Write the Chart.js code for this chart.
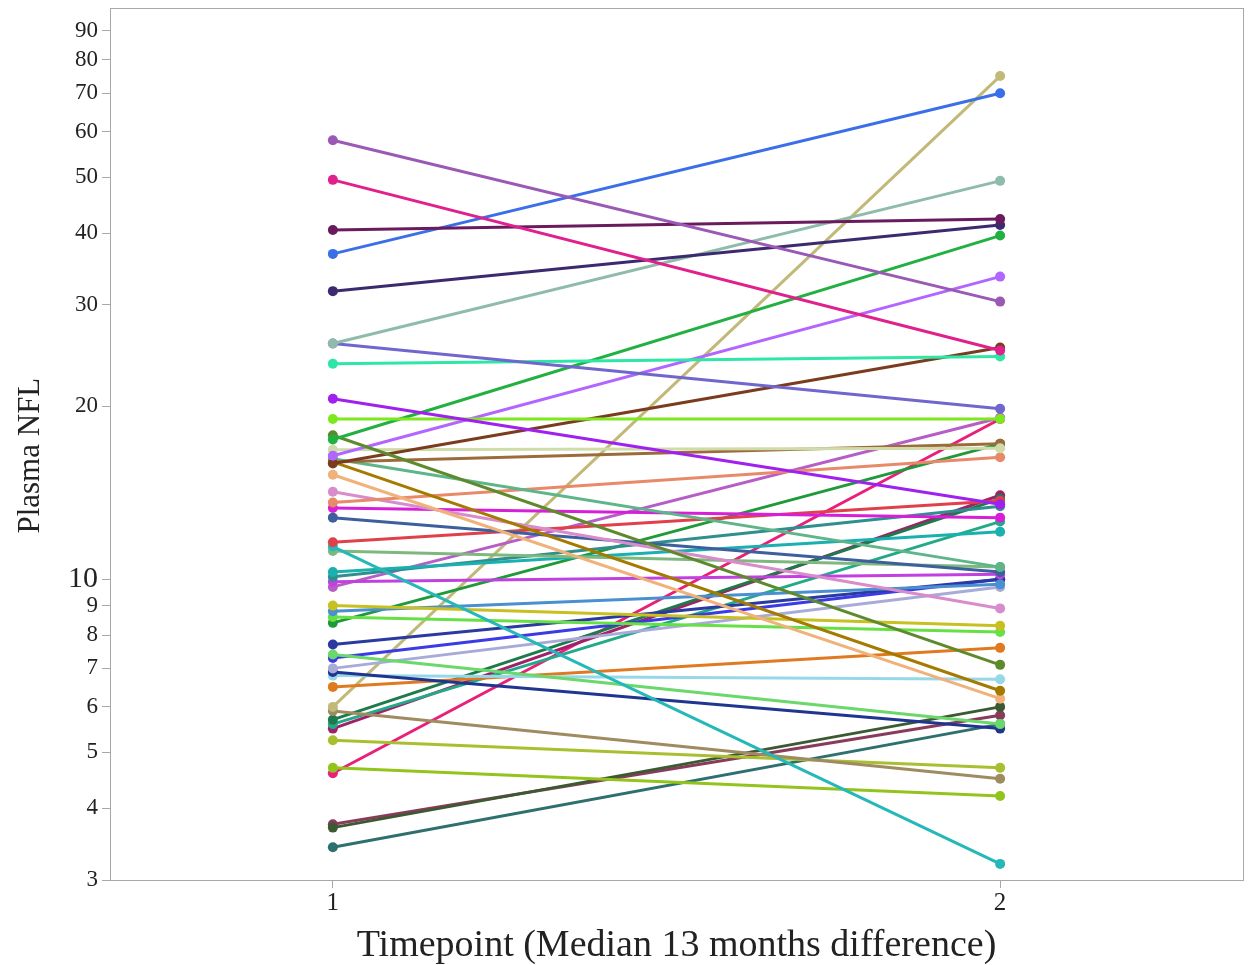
<!DOCTYPE html>
<html><head><meta charset="utf-8">
<script src="https://cdn.jsdelivr.net/npm/chart.js@4"></script>
<style>html,body{margin:0;padding:0;background:#fff}#wrap{width:1249px;height:965px}</style>
</head>
<body><div id="wrap"><canvas id="c" width="1249" height="965"></canvas></div>
<script>
const timepoints = [1, 2];
const nflT1 = [58, 49.5, 40.5, 36.8, 31.7, 25.7, 25.7, 23.7, 20.6, 19.0, 17.5, 17.8, 16.4, 15.9, 16.8, 16.0, 15.2, 16.0, 16.2, 13.6, 14.2, 13.3, 12.8, 11.6, 11.4, 11.2, 10.3, 10.1, 9.9, 9.7, 9.0, 8.8, 8.6, 8.4, 7.7, 7.4, 7.3, 7.0, 6.9, 6.8, 6.5, 6.0, 5.9, 5.7, 5.6, 5.5, 5.25, 4.7, 4.6, 3.7, 3.42, 3.75];
const nflT2 = [30.4, 25.0, 42.3, 70, 41.3, 49.3, 19.8, 24.4, 13.5, 19.0, 39.6, 7.1, 33.6, 25.3, 16.9, 6.4, 6.2, 17.2, 10.5, 16.3, 8.9, 12.8, 10.3, 13.7, 3.2, 10.5, 12.1, 13.4, 10.2, 19.1, 8.3, 9.8, 8.1, 17.2, 10.0, 5.6, 10.0, 9.7, 5.5, 6.7, 7.6, 75, 4.5, 13.8, 12.6, 14.0, 4.7, 4.2, 19.0, 6.0, 5.6, 5.8];
const lineColors = ['#9b59b6','#e0208c','#6a1b5e','#3b6fe8','#3b2a6e','#8fbcaa','#7066cc','#2ee6a6','#a020f0','#7ee81e','#22b040','#5e8a2e','#b266ff','#7a3b1e','#cfdcaa','#a57a00','#f0b27a','#9c6b3c','#5fb58a','#e8896a','#d98ccc','#d81fd8','#3d5f9e','#e0404a','#26b8b8','#7fb87f','#1ab0b0','#2f8f8f','#c040e0','#b85cc8','#c8c020','#4a8fd0','#66e044','#1f9a3a','#2a3aa0','#6ad86a','#3a3ae6','#a8aad8','#1f3590','#96d8e8','#e07a20','#c2b878','#a08a60','#1e7a4a','#22aa88','#a0206a','#a8c030','#92c41c','#e8207a','#3c5a32','#2e706e','#8a3a5a'];
const yTicks = [3, 4, 5, 6, 7, 8, 9, 10, 20, 30, 40, 50, 60, 70, 80, 90];
const xTicks = [1, 2];

const FONT = "'Liberation Serif', 'Times New Roman', serif";
const datasets = nflT1.map((v, i) => ({
  data: [{x: timepoints[0], y: v}, {x: timepoints[1], y: nflT2[i]}],
  borderColor: lineColors[i],
  backgroundColor: lineColors[i],
  borderWidth: 3,
  pointRadius: 5,
  pointBorderWidth: 0,
  fill: false
}));

const boxPlugin = {
  id: 'box',
  afterDraw(chart) {
    const a = chart.chartArea, ctx = chart.ctx;
    ctx.save();
    ctx.strokeStyle = '#a8a8a8';
    ctx.lineWidth = 1;
    ctx.strokeRect(a.left + 0.5, a.top + 0.5, a.right - a.left, a.bottom - a.top);
    ctx.restore();
  }
};

new Chart(document.getElementById('c'), {
  type: 'line',
  data: { datasets },
  options: {
    responsive: false,
    animation: false,
    layout: { padding: { top: 8, right: 6, left: 0, bottom: 0 } },
    plugins: { legend: { display: false }, tooltip: { enabled: false } },
    scales: {
      x: {
        type: 'linear', min: 0.666, max: 2.364,
        afterBuildTicks: s => { s.ticks = xTicks.map(v => ({ value: v })); },
        afterFit: s => { s.height = 85; s.paddingLeft = 0; s.paddingRight = 0; },
        grid: { drawOnChartArea: false, tickLength: 8, color: '#a8a8a8' },
        border: { color: '#a8a8a8' },
        ticks: { color: '#222', font: { family: FONT, size: 25 }, padding: 0, callback: v => String(v) },
        title: { display: true, text: 'Timepoint (Median 13 months difference)', color: '#222', font: { family: FONT, size: 38, lineHeight: 1.0 }, padding: { top: 5, bottom: 0 } }
      },
      y: {
        type: 'logarithmic', min: 3, max: 98.5,
        afterBuildTicks: s => { s.ticks = yTicks.map(v => ({ value: v })); },
        afterFit: s => { s.width = 110; s.paddingTop = 0; s.paddingBottom = 0; },
        grid: { drawOnChartArea: false, tickLength: 8, color: '#a8a8a8' },
        border: { color: '#a8a8a8' },
        ticks: {
          color: '#222', padding: 4, autoSkip: false,
          font: ctx => ({ family: FONT, size: (ctx.tick && ctx.tick.value === 10) ? 30 : 23 }),
          callback: v => String(v)
        },
        title: { display: true, text: 'Plasma NFL\u00a0\u00a0\u00a0', color: '#222', font: { family: FONT, size: 31 }, padding: { bottom: 0, top: 12 } }
      }
    }
  },
  plugins: [boxPlugin]
});
</script>
</body></html>
